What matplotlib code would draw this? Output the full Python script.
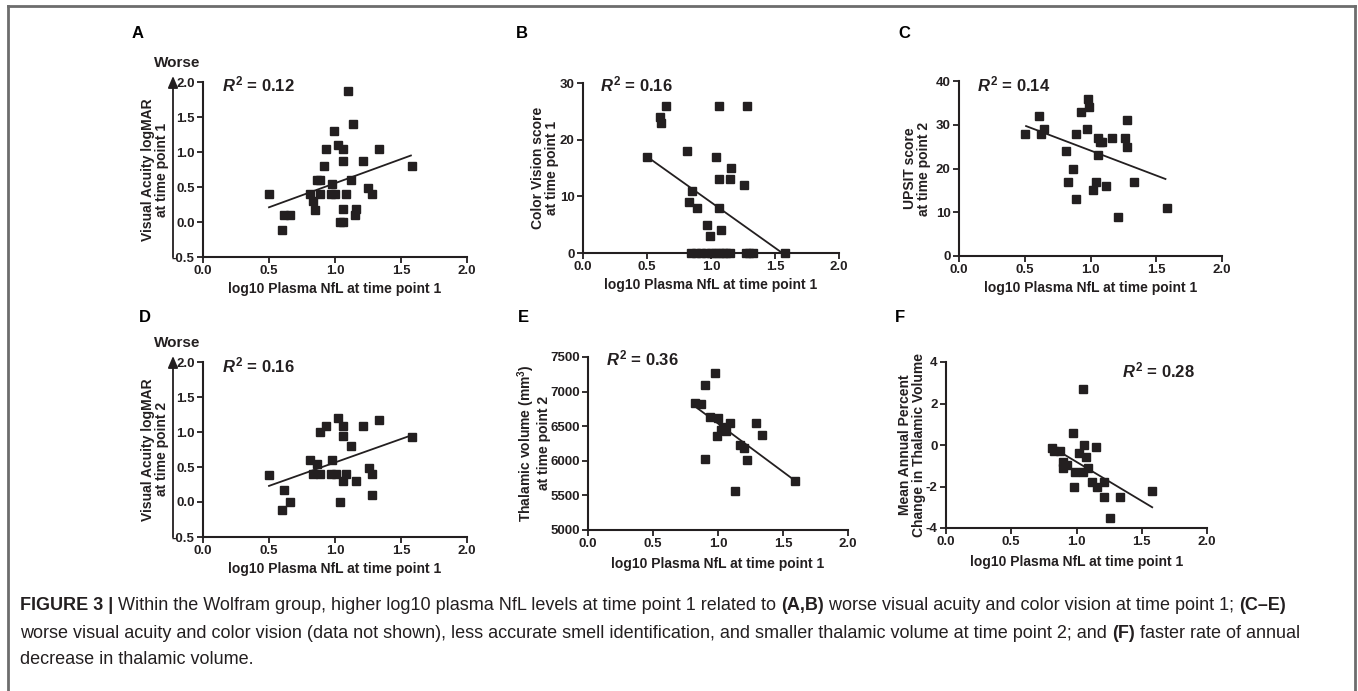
import matplotlib
matplotlib.use("Agg")
import matplotlib.pyplot as plt
from matplotlib.ticker import FormatStrFormatter, FixedLocator
from matplotlib.lines import Line2D

plt.rcParams['font.family'] = ['Liberation Sans', 'DejaVu Sans']
plt.rcParams['axes.unicode_minus'] = False
plt.rcParams['mathtext.fontset'] = 'custom'
plt.rcParams['mathtext.rm'] = 'Liberation Sans:bold'
plt.rcParams['mathtext.it'] = 'Liberation Sans:italic:bold'
plt.rcParams['mathtext.bf'] = 'Liberation Sans:bold'

# ---------------- data ----------------
a_x = [0.50, 0.61, 0.66, 0.60, 1.10, 1.14, 0.99, 0.93, 1.02, 1.06, 1.33, 1.06, 1.21, 1.58,
       0.92, 0.86, 0.89, 0.98, 1.12, 0.81, 0.89, 0.97, 1.00, 1.08, 1.25, 1.28, 0.83, 0.85,
       1.06, 1.16, 1.15, 1.04, 1.06]
a_y = [0.40, 0.10, 0.10, -0.12, 1.87, 1.40, 1.30, 1.05, 1.10, 1.05, 1.05, 0.87, 0.87, 0.80,
       0.80, 0.60, 0.60, 0.55, 0.60, 0.40, 0.40, 0.40, 0.40, 0.40, 0.48, 0.40, 0.30, 0.17,
       0.18, 0.18, 0.10, 0.00, 0.00]
a_fit_x = [0.50, 1.575]
a_fit_y = [0.21, 0.95]

b_x = [0.50, 0.60, 0.61, 0.65, 0.81, 1.06, 1.28, 1.04, 1.16, 1.06, 1.15, 1.26, 0.85, 0.83,
       0.89, 1.06, 0.97, 1.08, 0.99,
       0.84, 0.88, 0.92, 0.96, 1.00, 1.03, 1.06, 1.09, 1.12, 1.15, 1.27, 1.30, 1.33, 1.58]
b_y = [17, 24, 23, 26, 18, 26, 26, 17, 15, 13, 13, 12, 11, 9,
       8, 8, 5, 4, 3,
       0, 0, 0, 0, 0, 0, 0, 0, 0, 0, 0, 0, 0, 0]
b_fit_x = [0.50, 1.557]
b_fit_y = [17.0, 0.0]

c_x = [0.50, 0.61, 0.62, 0.65, 0.81, 0.87, 0.83, 0.89, 0.89, 0.93, 0.98, 0.99, 0.97, 1.06,
       1.07, 1.09, 1.06, 1.04, 1.02, 1.12, 1.16, 1.26, 1.28, 1.28, 1.33, 1.21, 1.58]
c_y = [28, 32, 28, 29, 24, 20, 17, 28, 13, 33, 36, 34, 29, 27,
       26, 26, 23, 17, 15, 16, 27, 27, 31, 25, 17, 9, 11]
c_fit_x = [0.51, 1.57]
c_fit_y = [29.7, 17.6]

d_x = [0.50, 0.61, 0.60, 0.66, 0.81, 0.86, 0.83, 0.89, 0.97, 1.01, 1.08, 0.98, 0.89, 0.93,
       1.02, 1.06, 1.06, 1.12, 1.21, 1.33, 1.58, 1.26, 1.28, 1.06, 1.16, 1.04, 1.28]
d_y = [0.38, 0.17, -0.12, 0.00, 0.60, 0.55, 0.40, 0.40, 0.40, 0.40, 0.40, 0.60, 1.00, 1.09,
       1.20, 1.09, 0.94, 0.80, 1.09, 1.17, 0.93, 0.48, 0.40, 0.30, 0.30, 0.00, 0.10]
d_fit_x = [0.50, 1.575]
d_fit_y = [0.23, 0.95]

e_x = [0.82, 0.87, 0.90, 0.98, 0.94, 1.00, 0.99, 1.04, 1.06, 1.09, 1.02, 1.17, 1.20, 1.22,
       1.29, 1.34, 0.90, 1.13, 1.59]
e_y = [6830, 6820, 7100, 7270, 6630, 6625, 6355, 6490, 6430, 6550, 6450, 6225, 6190, 6010,
       6550, 6370, 6030, 5560, 5715]
e_fit_x = [0.82, 1.58]
e_fit_y = [6790, 5730]

f_x = [0.81, 0.83, 0.87, 1.05, 0.97, 1.06, 1.02, 1.07, 1.15, 0.90, 0.93, 0.90, 0.99, 1.05,
       1.09, 1.12, 1.16, 1.21, 0.98, 1.21, 1.33, 1.26, 1.58]
f_y = [-0.15, -0.3, -0.3, 2.7, 0.6, 0.0, -0.4, -0.6, -0.1, -0.8, -0.95, -1.1, -1.3, -1.3,
       -1.1, -1.8, -2.0, -1.8, -2.0, -2.5, -2.5, -3.5, -2.2]
f_fit_x = [0.89, 1.58]
f_fit_y = [-0.4, -3.0]

x_ticks = [0.0, 0.5, 1.0, 1.5, 2.0]
xlabel = "log10 Plasma NfL at time point 1"

panels = [
    dict(letter="A", x=a_x, y=a_y, fx=a_fit_x, fy=a_fit_y, ylim=(-0.5, 2.0),
         yticks=[-0.5, 0.0, 0.5, 1.0, 1.5, 2.0], yfmt='%.1f',
         ylabel="Visual Acuity logMAR\nat time point 1", r2="0.12",
         box=(203, 467, 82, 257), letter_pos=(138, 33), ylab_x=155, r2_pos=(222, 84),
         arrow=True, xlab_y=289),
    dict(letter="B", x=b_x, y=b_y, fx=b_fit_x, fy=b_fit_y, ylim=(0, 30),
         yticks=[0, 10, 20, 30], yfmt='%d',
         ylabel="Color Vision score\nat time point 1", r2="0.16",
         box=(583, 839, 83, 253), letter_pos=(522, 33), ylab_x=545, r2_pos=(600, 84),
         arrow=False, xlab_y=285),
    dict(letter="C", x=c_x, y=c_y, fx=c_fit_x, fy=c_fit_y, ylim=(0, 40),
         yticks=[0, 10, 20, 30, 40], yfmt='%d',
         ylabel="UPSIT score\nat time point 2", r2="0.14",
         box=(959, 1222, 81, 256), letter_pos=(904, 33), ylab_x=917, r2_pos=(977, 84),
         arrow=False, xlab_y=288),
    dict(letter="D", x=d_x, y=d_y, fx=d_fit_x, fy=d_fit_y, ylim=(-0.5, 2.0),
         yticks=[-0.5, 0.0, 0.5, 1.0, 1.5, 2.0], yfmt='%.1f',
         ylabel="Visual Acuity logMAR\nat time point 2", r2="0.16",
         box=(203, 467, 362, 537), letter_pos=(145, 318), ylab_x=155, r2_pos=(222, 365),
         arrow=True, xlab_y=569),
    dict(letter="E", x=e_x, y=e_y, fx=e_fit_x, fy=e_fit_y, ylim=(5000, 7500),
         yticks=[5000, 5500, 6000, 6500, 7000, 7500], yfmt='%d',
         ylabel="Thalamic volume (mm$^{3}$)\nat time point 2", r2="0.36",
         box=(588, 848, 357, 530), letter_pos=(523, 318), ylab_x=533, r2_pos=(606, 358),
         arrow=False, xlab_y=564),
    dict(letter="F", x=f_x, y=f_y, fx=f_fit_x, fy=f_fit_y, ylim=(-4, 4),
         yticks=[-4, -2, 0, 2, 4], yfmt='%d',
         ylabel="Mean Annual Percent\nChange in Thalamic Volume", r2="0.28",
         box=(946, 1207, 362, 528), letter_pos=(900, 318), ylab_x=912, r2_pos=(1122, 370),
         arrow=False, xlab_y=562),
]

W, H = 1358, 691
fig = plt.figure(figsize=(W / 100, H / 100), dpi=100)
INK = '#231f20'

def fx_(px):
    return px / W

def fy_(py):
    return 1 - py / H

for p in panels:
    L, R, T, B = p['box']
    ax = fig.add_axes([fx_(L), fy_(B), (R - L) / W, (B - T) / H])
    ax.set_xlim(0, 2)
    ax.set_ylim(*p['ylim'])
    ax.plot(p['x'], p['y'], linestyle='none', marker='s', markersize=5.6,
            color=INK, clip_on=False, zorder=3)
    ax.plot(p['fx'], p['fy'], color=INK, lw=1.3, zorder=2)
    for s in ('top', 'right'):
        ax.spines[s].set_visible(False)
    for s in ('left', 'bottom'):
        ax.spines[s].set_linewidth(1.5)
        ax.spines[s].set_color(INK)
    ax.xaxis.set_major_locator(FixedLocator(x_ticks))
    ax.yaxis.set_major_locator(FixedLocator(p['yticks']))
    ax.xaxis.set_major_formatter(FormatStrFormatter('%.1f'))
    ax.yaxis.set_major_formatter(FormatStrFormatter(p['yfmt']))
    ax.tick_params(direction='out', length=4, width=1.3, color=INK,
                   labelsize=9.5, pad=2, labelcolor=INK)
    for lab in ax.get_xticklabels() + ax.get_yticklabels():
        lab.set_fontweight('bold')
    ax.patch.set_alpha(0)
    # x label
    fig.text(fx_((L + R) / 2), fy_(p['xlab_y']), xlabel, ha='center', va='center',
             fontsize=10, fontweight='bold', color=INK)
    # y label
    fig.text(fx_(p['ylab_x']), fy_((T + B) / 2), p['ylabel'], rotation=90,
             ha='center', va='center', multialignment='center',
             fontsize=10, fontweight='bold', color=INK, linespacing=1.0)
    # R^2
    fig.text(fx_(p['r2_pos'][0]), fy_(p['r2_pos'][1]), r'$R^2$ = ' + p['r2'],
             ha='left', va='center', fontsize=12, fontweight='bold', color=INK)
    # letter
    fig.text(fx_(p['letter_pos'][0]), fy_(p['letter_pos'][1]), p['letter'],
             ha='center', va='center', fontsize=12, fontweight='bold', color='black')
    if p['arrow']:
        axx = 173
        fig.add_artist(Line2D([fx_(axx), fx_(axx)], [fy_(B), fy_(T + 4)],
                              color=INK, lw=1.3))
        ax.annotate('', xy=(fx_(axx), fy_(T - 6)), xycoords='figure fraction',
                    xytext=(fx_(axx), fy_(T + 6)), textcoords='figure fraction',
                    arrowprops=dict(arrowstyle='-|>,head_length=0.7,head_width=0.3',
                                    color=INK, lw=1.3, shrinkA=0, shrinkB=0))
        fig.text(fx_(177), fy_(T - 19), "Worse", ha='center', va='center',
                 fontsize=11, fontweight='bold', color=INK)

# border
border_c = '#6d6d6d'
fig.add_artist(Line2D([fx_(8), fx_(8)], [fy_(6), 0], color=border_c, lw=2))
fig.add_artist(Line2D([fx_(1355), fx_(1355)], [fy_(6), 0], color=border_c, lw=2))
fig.add_artist(Line2D([fx_(8), fx_(1355)], [fy_(6), fy_(6)], color=border_c, lw=2))

# caption with mixed weights
caption_lines = [
    [("FIGURE 3 |", 'bold'), (" Within the Wolfram group, higher log10 plasma NfL levels at time point 1 related to ", 'normal'),
     ("(A,B)", 'bold'), (" worse visual acuity and color vision at time point 1; ", 'normal'), ("(C\u2013E)", 'bold')],
    [("worse visual acuity and color vision (data not shown), less accurate smell identification, and smaller thalamic volume at time point 2; and ", 'normal'),
     ("(F)", 'bold'), (" faster rate of annual", 'normal')],
    [("decrease in thalamic volume.", 'normal')],
]
caption_y = [606, 633, 660]
cap_fs = 13.0
fig.canvas.draw()
renderer = fig.canvas.get_renderer()
for line, yy in zip(caption_lines, caption_y):
    x = 20
    for txt, wt in line:
        t = fig.text(fx_(x), fy_(yy), txt, ha='left', va='center', fontsize=cap_fs,
                     fontweight=wt, color='#231f20')
        bb = t.get_window_extent(renderer)
        x += bb.width

fig.savefig('out.png', dpi=100)
